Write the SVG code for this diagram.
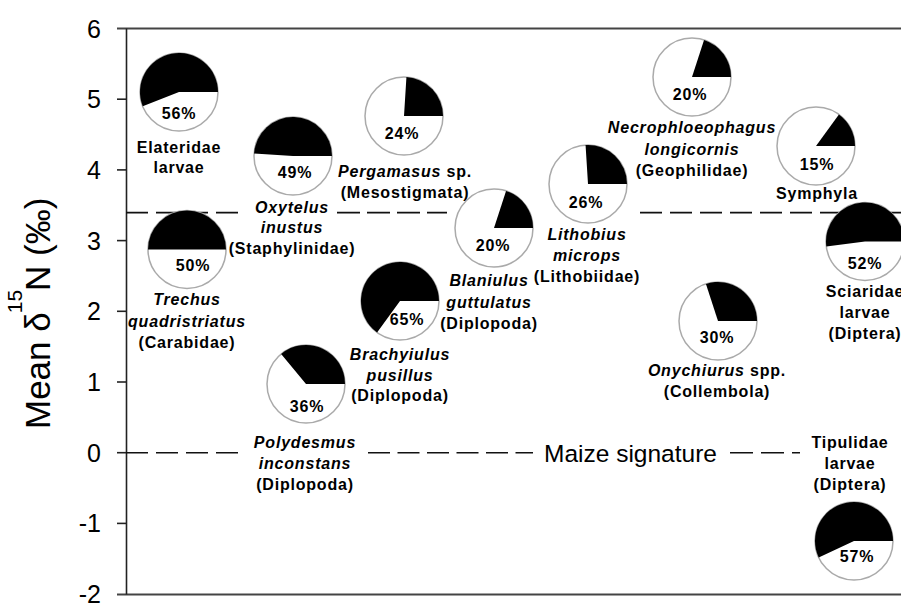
<svg xmlns="http://www.w3.org/2000/svg" width="901" height="605" viewBox="0 0 901 605">
<style>
.lbl{font-family:"Liberation Sans",Arial,sans-serif;font-size:16px;font-weight:bold;letter-spacing:0.8px;text-anchor:middle;fill:#000}
.it{font-style:italic}
.pie{fill:#fff;stroke:#aaa;stroke-width:1.5}
.slice{fill:#000}
.tick{font-family:"Liberation Sans",Arial,sans-serif;font-size:25px;text-anchor:end;fill:#000}
.ref{fill:none;stroke:#111;stroke-width:1.6}
.axis{fill:none;stroke:#222;stroke-width:1.6}
.frame{fill:none;stroke:#444;stroke-width:2}
</style>
<rect width="901" height="605" fill="#fff"/>
<g id="axes">
<line class="frame" x1="117" y1="28.5" x2="901" y2="28.5"/>
<line class="frame" x1="117" y1="594.5" x2="901" y2="594.5"/>
<line class="axis" x1="126.5" y1="28.5" x2="126.5" y2="594.5"/>
<g class="axis">
<line x1="117" y1="99.2" x2="126.5" y2="99.2"/>
<line x1="117" y1="169.9" x2="126.5" y2="169.9"/>
<line x1="117" y1="240.6" x2="126.5" y2="240.6"/>
<line x1="117" y1="311.3" x2="126.5" y2="311.3"/>
<line x1="117" y1="382" x2="126.5" y2="382"/>
<line x1="117" y1="452.7" x2="126.5" y2="452.7"/>
<line x1="117" y1="523.4" x2="126.5" y2="523.4"/>
</g>
<text class="tick" x="101" y="37.5">6</text>
<text class="tick" x="101" y="108.2">5</text>
<text class="tick" x="101" y="178.9">4</text>
<text class="tick" x="101" y="249.6">3</text>
<text class="tick" x="101" y="320.3">2</text>
<text class="tick" x="101" y="391">1</text>
<text class="tick" x="101" y="461.7">0</text>
<text class="tick" x="101" y="532.4">-1</text>
<text class="tick" x="101" y="603.1">-2</text>
<text transform="translate(50,429) rotate(-90)" font-family="Liberation Sans,Arial,sans-serif" font-size="35" fill="#000">Mean δ<tspan font-size="21" dx="-1" dy="-28">15</tspan><tspan dx="-1" dy="28">N (‰)</tspan></text>
</g>
<g id="connectors">
<line class="ref" x1="126" y1="212.6" x2="240" y2="212.6" stroke-dasharray="22 8"/>
<line class="ref" x1="337" y1="212.6" x2="447" y2="212.6" stroke-dasharray="23 7"/>
<line class="ref" x1="640" y1="212.6" x2="901" y2="212.6" stroke-dasharray="22 8"/>
<line class="ref" x1="126" y1="452.7" x2="240" y2="452.7" stroke-dasharray="22 8"/>
<line class="ref" x1="368" y1="452.7" x2="533" y2="452.7" stroke-dasharray="22 7.5"/>
<line class="ref" x1="730" y1="452.7" x2="800" y2="452.7" stroke-dasharray="23 8"/>
<text x="630.5" y="461.5" font-family="Liberation Sans,Arial,sans-serif" font-size="24.5" text-anchor="middle" fill="#000">Maize signature</text>
</g>
<g id="elateridae">
<circle class="pie" cx="179" cy="92" r="39"/>
<path class="slice" d="M179,92 L218,92 A39,39 0 1 0 142.74,106.36 Z"/>
<text class="lbl" x="179" y="119">56%</text>
<text class="lbl" x="179" y="153">Elateridae</text>
<text class="lbl" x="179" y="173">larvae</text>
</g>
<g id="oxytelus">
<circle class="pie" cx="293" cy="156" r="39"/>
<path class="slice" d="M293,156 L332,156 A39,39 0 0 0 254.08,153.55 Z"/>
<text class="lbl" x="295" y="178">49%</text>
<text class="lbl it" x="292" y="213">Oxytelus</text>
<text class="lbl it" x="292" y="233">inustus</text>
<text class="lbl" x="292" y="254">(Staphylinidae)</text>
</g>
<g id="pergamasus">
<circle class="pie" cx="404" cy="116" r="39"/>
<path class="slice" d="M404,116 L443,116 A39,39 0 0 0 406.45,77.08 Z"/>
<text class="lbl" x="402" y="139">24%</text>
<text class="lbl" x="405" y="176.5"><tspan class="it">Pergamasus</tspan> sp.</text>
<text class="lbl" x="405" y="198">(Mesostigmata)</text>
</g>
<g id="blaniulus">
<circle class="pie" cx="494" cy="228" r="39"/>
<path class="slice" d="M494,228 L533,228 A39,39 0 0 0 506.05,190.91 Z"/>
<text class="lbl" x="493" y="251">20%</text>
<text class="lbl it" x="489" y="286">Blaniulus</text>
<text class="lbl it" x="489" y="307.5">guttulatus</text>
<text class="lbl" x="489" y="329">(Diplopoda)</text>
</g>
<g id="brachyiulus">
<circle class="pie" cx="400" cy="301" r="39"/>
<path class="slice" d="M400,301 L439,301 A39,39 0 1 0 377.08,332.55 Z"/>
<text class="lbl" x="407" y="325">65%</text>
<text class="lbl it" x="400" y="360">Brachyiulus</text>
<text class="lbl it" x="400" y="381">pusillus</text>
<text class="lbl" x="400" y="401">(Diplopoda)</text>
</g>
<g id="polydesmus">
<circle class="pie" cx="306" cy="384" r="39"/>
<path class="slice" d="M306,384 L345,384 A39,39 0 0 0 281.14,353.95 Z"/>
<text class="lbl" x="307" y="412">36%</text>
<text class="lbl it" x="305" y="448">Polydesmus</text>
<text class="lbl it" x="305" y="469">inconstans</text>
<text class="lbl" x="305" y="490">(Diplopoda)</text>
</g>
<g id="trechus">
<circle class="pie" cx="187" cy="249.5" r="39"/>
<path class="slice" d="M187,249.5 L226,249.5 A39,39 0 0 0 148,249.5 Z"/>
<text class="lbl" x="193" y="271">50%</text>
<text class="lbl it" x="187" y="305">Trechus</text>
<text class="lbl it" x="187" y="326.5">quadristriatus</text>
<text class="lbl" x="187" y="348">(Carabidae)</text>
</g>
<g id="lithobius">
<circle class="pie" cx="588" cy="184" r="39"/>
<path class="slice" d="M588,184 L627,184 A39,39 0 0 0 585.55,145.08 Z"/>
<text class="lbl" x="586" y="208">26%</text>
<text class="lbl it" x="587" y="240">Lithobius</text>
<text class="lbl it" x="587" y="261">microps</text>
<text class="lbl" x="587" y="281.5">(Lithobiidae)</text>
</g>
<g id="necrophloeophagus">
<circle class="pie" cx="692" cy="77" r="39"/>
<path class="slice" d="M692,77 L731,77 A39,39 0 0 0 704.05,39.91 Z"/>
<text class="lbl" x="690" y="100">20%</text>
<text class="lbl it" x="692" y="133">Necrophloeophagus</text>
<text class="lbl it" x="692" y="154.5">longicornis</text>
<text class="lbl" x="692" y="176">(Geophilidae)</text>
</g>
<g id="symphyla">
<circle class="pie" cx="816" cy="146" r="39"/>
<path class="slice" d="M816,146 L855,146 A39,39 0 0 0 838.92,114.45 Z"/>
<text class="lbl" x="817" y="170">15%</text>
<text class="lbl" x="817" y="199">Symphyla</text>
</g>
<g id="sciaridae">
<circle class="pie" cx="865" cy="241.5" r="39"/>
<path class="slice" d="M865,241.5 L904,241.5 A39,39 0 1 0 826.31,246.39 Z"/>
<text class="lbl" x="865" y="269">52%</text>
<text class="lbl" x="865" y="297">Sciaridae</text>
<text class="lbl" x="865" y="318">larvae</text>
<text class="lbl" x="865" y="339">(Diptera)</text>
</g>
<g id="onychiurus">
<circle class="pie" cx="718" cy="321" r="39"/>
<path class="slice" d="M718,321 L757,321 A39,39 0 0 0 705.95,283.91 Z"/>
<text class="lbl" x="717" y="343">30%</text>
<text class="lbl" x="717" y="376"><tspan class="it">Onychiurus</tspan> spp.</text>
<text class="lbl" x="717" y="397">(Collembola)</text>
</g>
<g id="tipulidae">
<circle class="pie" cx="854" cy="541" r="39"/>
<path class="slice" d="M854,541 L893,541 A39,39 0 1 0 818.71,557.6 Z"/>
<text class="lbl" x="857" y="562">57%</text>
<text class="lbl" x="850" y="448">Tipulidae</text>
<text class="lbl" x="850" y="469">larvae</text>
<text class="lbl" x="850" y="490">(Diptera)</text>
</g>
</svg>
